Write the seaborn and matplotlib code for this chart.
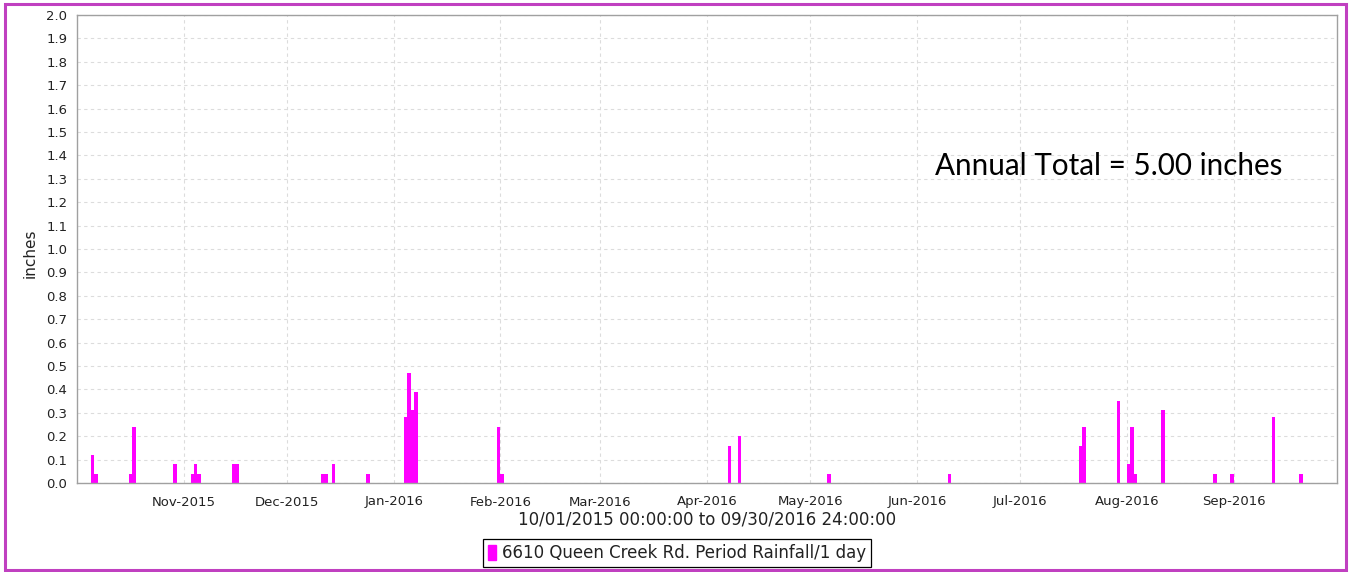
import pandas as pd
import numpy as np
import matplotlib
matplotlib.use("Agg")
import matplotlib.pyplot as plt
import matplotlib.dates as mdates
import matplotlib.patches as mpatches
import seaborn as sns

# daily rainfall readings (inches), water year 2016
rain_dates = [
    "2015-10-05", "2015-10-06", "2015-10-16", "2015-10-17", "2015-10-29",
    "2015-11-03", "2015-11-04", "2015-11-05", "2015-11-15", "2015-11-16",
    "2015-12-11", "2015-12-12", "2015-12-14", "2015-12-24",
    "2016-01-04", "2016-01-05", "2016-01-06", "2016-01-07",
    "2016-01-31", "2016-02-01", "2016-04-07", "2016-04-10", "2016-05-06",
    "2016-06-10", "2016-07-18", "2016-07-19", "2016-07-29",
    "2016-08-01", "2016-08-02", "2016-08-03", "2016-08-11",
    "2016-08-26", "2016-08-31", "2016-09-12", "2016-09-20",
]
rain_inches = [
    0.12, 0.04, 0.04, 0.24, 0.08,
    0.04, 0.08, 0.04, 0.08, 0.08,
    0.04, 0.04, 0.08, 0.04,
    0.28, 0.47, 0.31, 0.39,
    0.24, 0.04, 0.16, 0.20, 0.04,
    0.04, 0.16, 0.24, 0.35,
    0.08, 0.24, 0.04, 0.31,
    0.04, 0.04, 0.28, 0.04,
]
period_start = "2015-10-01"
period_end = "2016-10-01"
series_label = "6610 Queen Creek Rd. Period Rainfall/1 day"
range_label = "10/01/2015 00:00:00 to 09/30/2016 24:00:00"
total_label = "Annual Total = 5.00 inches"
y_ticks = [round(v * 0.1, 1) for v in range(21)]

BAR = "#ff00ff"
AXIS_GRAY = "#a0a0a0"
GRID = "#dcdcdc"

sns.set_theme(style="white")
plt.rcParams["font.family"] = ["DejaVu Sans"]

df = pd.DataFrame({"date": pd.to_datetime(rain_dates), "rain": rain_inches})
# centre each reading in its day so it lands in the right 1-day bin
df["daynum"] = mdates.date2num(df["date"]) + 0.5
x0 = mdates.date2num(pd.Timestamp(period_start))
x1 = mdates.date2num(pd.Timestamp(period_end))

fig = plt.figure(figsize=(13.49, 5.72), dpi=100)
ax = fig.add_axes([77 / 1349, 1 - 483 / 572, 1260 / 1349, 468 / 572])

sns.histplot(data=df, x="daynum", weights="rain", binwidth=1, binrange=(x0, x1),
             color=BAR, alpha=1, linewidth=0, edgecolor=BAR, ax=ax)

ax.set_xlim(x0, x1)
ax.set_ylim(0, 2.0)
ax.set_yticks(y_ticks)
ax.set_yticklabels([f"{v:.1f}" for v in y_ticks])
ax.xaxis.set_major_locator(mdates.MonthLocator(bymonthday=1))
ax.xaxis.set_major_formatter(mdates.DateFormatter("%b-%Y"))
ticks = [t for t in ax.get_xticks() if x0 < t < x1]
ax.set_xticks(ticks)

ax.grid(True, which="major", color=GRID, linestyle=(0, (3, 3)), linewidth=0.8)
ax.set_axisbelow(True)
for s in ax.spines.values():
    s.set_color(AXIS_GRAY)
    s.set_linewidth(1.0)
ax.tick_params(axis="both", direction="out", length=4, width=0.8, color=AXIS_GRAY,
               labelsize=9.5, labelcolor="#222222", pad=3)
ax.tick_params(axis="x", pad=5)

ax.set_ylabel("inches", fontsize=11, color="#222222")
ax.yaxis.set_label_coords(-0.031, 0.49)
ax.set_xlabel(range_label, fontsize=12, color="#222222")
ax.xaxis.set_label_coords(0.5, -0.058)

ax.text(0.819, 0.677, total_label, transform=ax.transAxes, ha="center", va="center",
        fontsize=21.3, color="black", family=["Lato", "DejaVu Sans"])

handle = mpatches.Patch(facecolor=BAR, edgecolor=BAR, label=series_label)
leg = fig.legend(handles=[handle], loc="center", bbox_to_anchor=(677 / 1349, 1 - 553 / 572),
                 fontsize=12, frameon=True, fancybox=False, framealpha=1,
                 handlelength=0.45, handleheight=1.0, handletextpad=0.35,
                 borderpad=0.3, borderaxespad=0)
leg.get_frame().set_edgecolor("black")
leg.get_frame().set_linewidth(0.9)
for t in leg.get_texts():
    t.set_color("#222222")

border = mpatches.Rectangle((5 / 1349, 2 / 572), 1341 / 1349, 566 / 572,
                            transform=fig.transFigure, fill=False,
                            edgecolor="#c040c0", linewidth=2.2)
fig.patches.append(border)

fig.savefig("out.png", dpi=100)
